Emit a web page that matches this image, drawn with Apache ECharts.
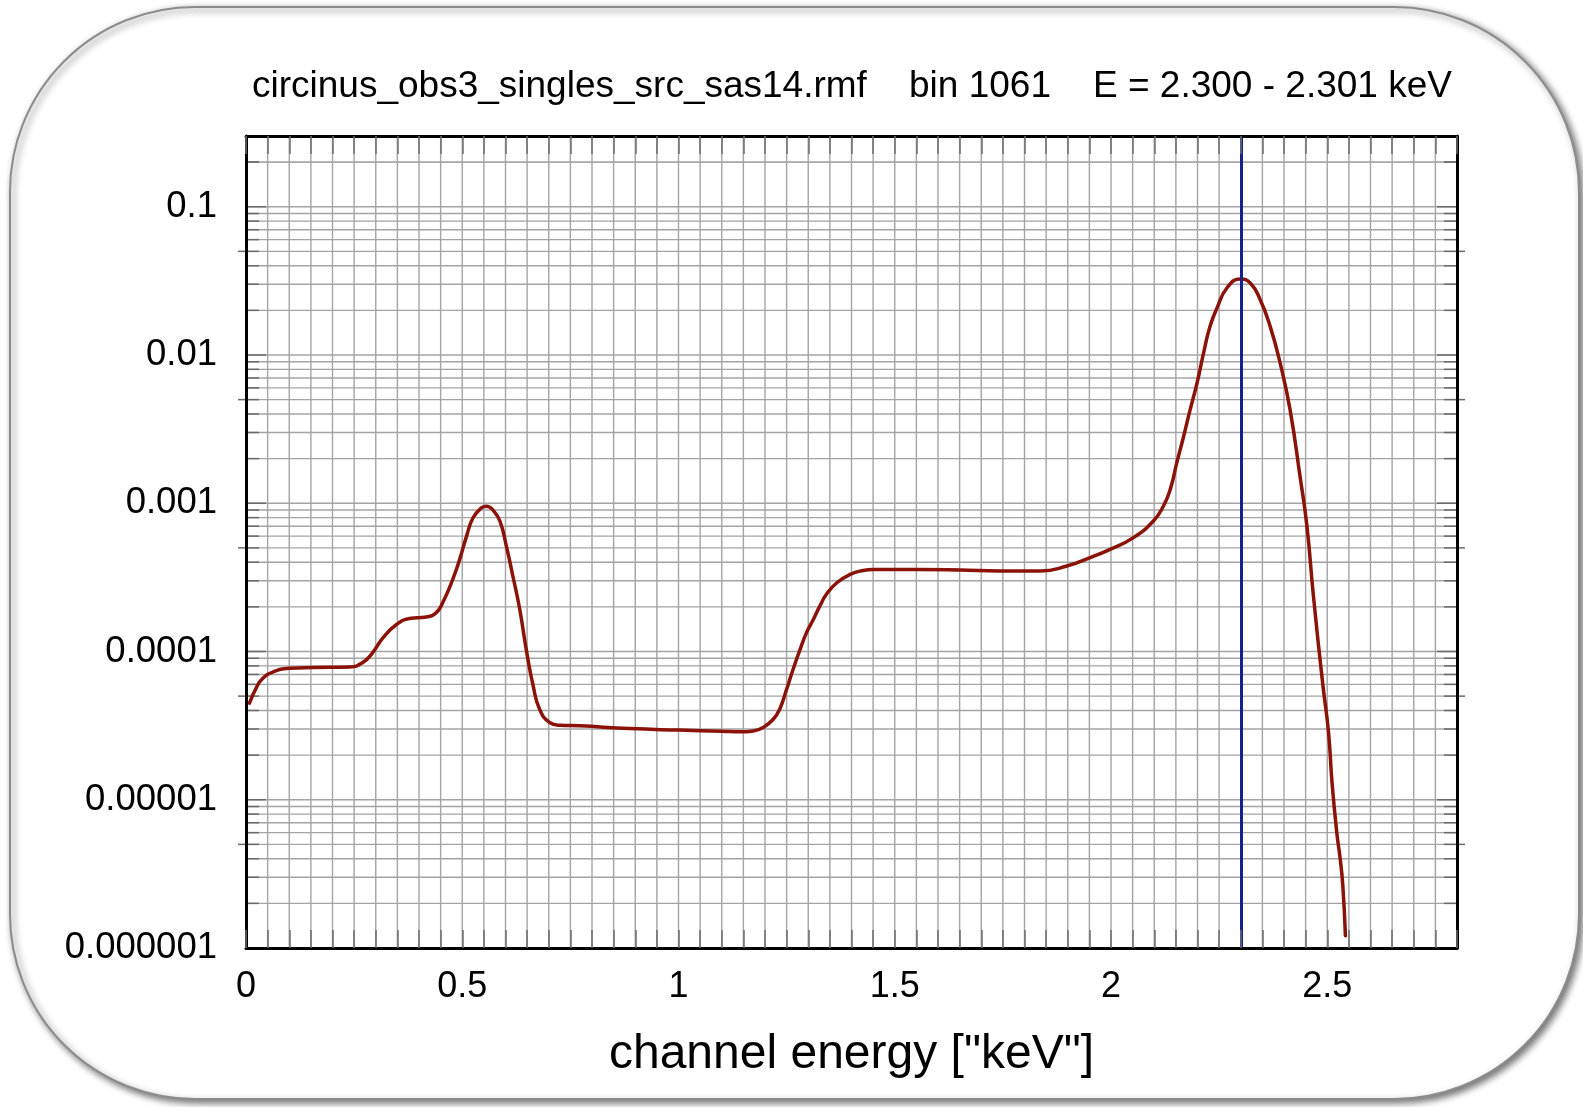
<!DOCTYPE html>
<html>
<head>
<meta charset="utf-8">
<script src="https://cdn.jsdelivr.net/npm/echarts@6/dist/echarts.min.js"></script>
<style>
html,body{margin:0;padding:0;background:#fff;}
#chart{width:1583px;height:1107px;}
</style>
</head>
<body>
<div id="chart"></div>
<script>
// ---- data ----
const energy = [0.008,0.024,0.039,0.062,0.10,0.155,0.24,0.27,0.293,0.317,0.348,0.378,0.417,0.44,0.455,0.478,0.494,0.51,0.525,0.545,0.556,0.571,0.587,0.602,0.617,0.633,0.648,0.664,0.679,0.702,0.726,0.772,0.887,1.0,1.1,1.142,1.173,1.196,1.219,1.234,1.25,1.265,1.281,1.296,1.312,1.327,1.342,1.366,1.397,1.427,1.45,1.551,1.65,1.743,1.836,1.898,1.952,1.998,2.052,2.098,2.121,2.137,2.152,2.168,2.183,2.199,2.214,2.229,2.245,2.268,2.299,2.322,2.345,2.368,2.391,2.414,2.437,2.453,2.468,2.49,2.503,2.511,2.522,2.53,2.536,2.542];
const response = [4.48e-5,5.71e-5,6.59e-5,7.27e-5,7.7e-5,7.8e-5,7.87e-5,8.42e-5,9.84e-5,1.24e-4,1.52e-4,1.67e-4,1.71e-4,1.83e-4,2.14e-4,3.07e-4,4.18e-4,6.0e-4,7.98e-4,9.33e-4,9.56e-4,8.99e-4,7.59e-4,5.14e-4,3.23e-4,1.92e-4,1.03e-4,5.86e-5,4.07e-5,3.32e-5,3.18e-5,3.15e-5,3.02e-5,2.95e-5,2.9e-5,2.87e-5,2.91e-5,3.07e-5,3.49e-5,4.08e-5,5.56e-5,7.59e-5,1.03e-4,1.34e-4,1.65e-4,2.03e-4,2.43e-4,2.91e-4,3.31e-4,3.52e-4,3.58e-4,3.58e-4,3.55e-4,3.49e-4,3.49e-4,3.77e-4,4.3e-4,4.89e-4,5.86e-4,7.59e-4,9.55e-4,1.24e-3,1.87e-3,2.83e-3,4.28e-3,6.48e-3,1.03e-2,1.56e-2,2.07e-2,2.83e-2,3.26e-2,3.06e-2,2.36e-2,1.56e-2,8.85e-3,4.28e-3,1.52e-3,7.02e-4,2.37e-4,5.9e-5,2.84e-5,1.31e-5,6.02e-6,3.98e-6,2.63e-6,1.21e-6];
const markerEnergy = 2.3;
const xTickValues = [0, 0.5, 1, 1.5, 2, 2.5];
const xTickLabels = ['0', '0.5', '1', '1.5', '2', '2.5'];
const yTickValues = [1e-6, 1e-5, 1e-4, 1e-3, 1e-2, 1e-1];
const yTickLabels = ['0.000001', '0.00001', '0.0001', '0.001', '0.01', '0.1'];
const xMin = 0, xMax = 2.8, xStep = 0.05;
const yMin = 1e-6, yMax = 0.3;
const titleParts = ['circinus_obs3_singles_src_sas14.rmf', 'bin 1061', 'E = 2.300 - 2.301 keV'];
const xAxisTitle = 'channel energy ["keV"]';

// grid line values (axis structure)
const xGridValues = [];
for (let k = 1; k * xStep < xMax - 1e-9; k++) xGridValues.push([+(k * xStep).toFixed(2), 1e-3]);
const yGridValues = [];
for (let e = -6; e <= -1; e++) {
  for (let m = 1; m <= 9; m++) {
    const v = +(m * Math.pow(10, e)).toPrecision(3);
    if (v > yMin * 1.0001 && v < yMax * 0.999) yGridValues.push([0.1, v]);
  }
}
yGridValues.push([0.1, 0.2]);

const series = energy.map((x, i) => [x, response[i]]);
const FONT = '"Liberation Sans", Arial, Helvetica, sans-serif';

const chart = echarts.init(document.getElementById('chart'), null, {renderer: 'canvas'});

function findLabel(v, vals, labels, isLog) {
  for (let i = 0; i < vals.length; i++) {
    const a = isLog ? Math.log10(v) : v, b = isLog ? Math.log10(vals[i]) : vals[i];
    if (Math.abs(a - b) < 1e-6) return labels[i];
  }
  return '';
}

const titleStyle = {fontFamily: FONT, fontSize: 37, fontWeight: 'normal', color: '#000', lineHeight: 40};

const option = {
  animation: false,
  backgroundColor: '#ffffff',
  graphic: {
    elements: [{
      type: 'rect', z: -10, silent: true,
      shape: {x: 10, y: 7, width: 1569, height: 1092, r: 185},
      style: {fill: '#ffffff', stroke: '#8c8c8c', lineWidth: 2,
        shadowBlur: 7, shadowOffsetX: 3, shadowOffsetY: 3, shadowColor: 'rgba(0,0,0,0.55)'}
    }]
  },
  title: [
    {text: titleParts[0], left: 252, top: 67, padding: 0, textStyle: titleStyle},
    {text: titleParts[1], left: 909, top: 67, padding: 0, textStyle: titleStyle},
    {text: titleParts[2], left: 1093, top: 67, padding: 0, textStyle: titleStyle}
  ],
  grid: {left: 246, top: 136, right: 126, bottom: 159, containLabel: false},
  xAxis: [{
    type: 'value', position: 'bottom', min: xMin, max: xMax, interval: xStep, z: 5,
    name: xAxisTitle, nameLocation: 'middle', nameGap: 83,
    nameTextStyle: {fontFamily: FONT, fontSize: 48, color: '#000'},
    axisLine: {show: true, onZero: false, lineStyle: {color: '#000', width: 3}},
    axisTick: {show: true, inside: true, length: 18, lineStyle: {color: '#6e6e6e', width: 1.5}},
    axisLabel: {show: true, margin: 21, fontFamily: FONT, fontSize: 36, color: '#000',
      formatter: v => findLabel(v, xTickValues, xTickLabels, false)},
    splitLine: {show: false}
  }, {
    type: 'value', position: 'top', min: xMin, max: xMax, interval: xStep, z: 5,
    axisLine: {show: true, onZero: false, lineStyle: {color: '#000', width: 3}},
    axisTick: {show: true, inside: true, length: 18, lineStyle: {color: '#6e6e6e', width: 1.5}},
    axisLabel: {show: false},
    splitLine: {show: false}
  }],
  yAxis: [{
    type: 'log', logBase: 10, position: 'left', min: yMin, max: yMax, z: 5,
    axisLine: {show: true, onZero: false, lineStyle: {color: '#000', width: 3}},
    axisTick: {show: false},
    axisLabel: {show: true, margin: 29, fontFamily: FONT, fontSize: 36.5, color: '#000',
      formatter: v => findLabel(v, yTickValues, yTickLabels, true)},
    splitLine: {show: false}, minorTick: {show: false}, minorSplitLine: {show: false}
  }, {
    type: 'log', logBase: 10, position: 'right', min: yMin, max: yMax, z: 5,
    axisLine: {show: true, onZero: false, lineStyle: {color: '#000', width: 3}},
    axisTick: {show: false}, axisLabel: {show: false}, splitLine: {show: false}
  }],
  series: [{
    type: 'custom', name: 'hgrid', silent: true, z: 1,
    xAxisIndex: 0, yAxisIndex: 0,
    encode: {x: 0, y: 1},
    data: yGridValues,
    renderItem: function (params, api) {
      const v = api.value(1);
      const cs = params.coordSys;
      const y = api.coord([0.1, v])[1];
      const e = Math.floor(Math.log10(v) + 1e-9);
      const mant = Math.round(v / Math.pow(10, e));
      const inLen = mant === 1 ? 20 : 13;
      const out = mant === 5 ? 8 : 0;
      return {type: 'group', children: [
        {type: 'line', shape: {x1: cs.x, y1: y, x2: cs.x + cs.width, y2: y}, style: {stroke: '#a4a4a4', lineWidth: 1.4}},
        {type: 'line', shape: {x1: cs.x - out, y1: y, x2: cs.x + inLen, y2: y}, style: {stroke: '#6a6a6a', lineWidth: 1.5}},
        {type: 'line', shape: {x1: cs.x + cs.width - inLen, y1: y, x2: cs.x + cs.width + out, y2: y}, style: {stroke: '#6a6a6a', lineWidth: 1.5}}
      ]};
    }
  }, {
    type: 'custom', name: 'vgrid', silent: true, z: 1,
    xAxisIndex: 0, yAxisIndex: 0,
    encode: {x: 0, y: 1},
    data: xGridValues,
    renderItem: function (params, api) {
      const x = api.coord([api.value(0), 1e-3])[0];
      const cs = params.coordSys;
      return {type: 'line', shape: {x1: x, y1: cs.y, x2: x, y2: cs.y + cs.height}, style: {stroke: '#a4a4a4', lineWidth: 1.4}};
    }
  }, {
    type: 'line', name: 'response', z: 3,
    xAxisIndex: 0, yAxisIndex: 0,
    data: series,
    showSymbol: false, symbol: 'none',
    smooth: 0.5,
    lineStyle: {color: '#8a1208', width: 3.5, cap: 'round', join: 'round'},
    markLine: {
      silent: true, symbol: ['none', 'none'], label: {show: false},
      lineStyle: {color: '#13208e', width: 3, type: 'solid'},
      data: [{xAxis: markerEnergy}]
    }
  }]
};
chart.setOption(option);
</script>
</body>
</html>
